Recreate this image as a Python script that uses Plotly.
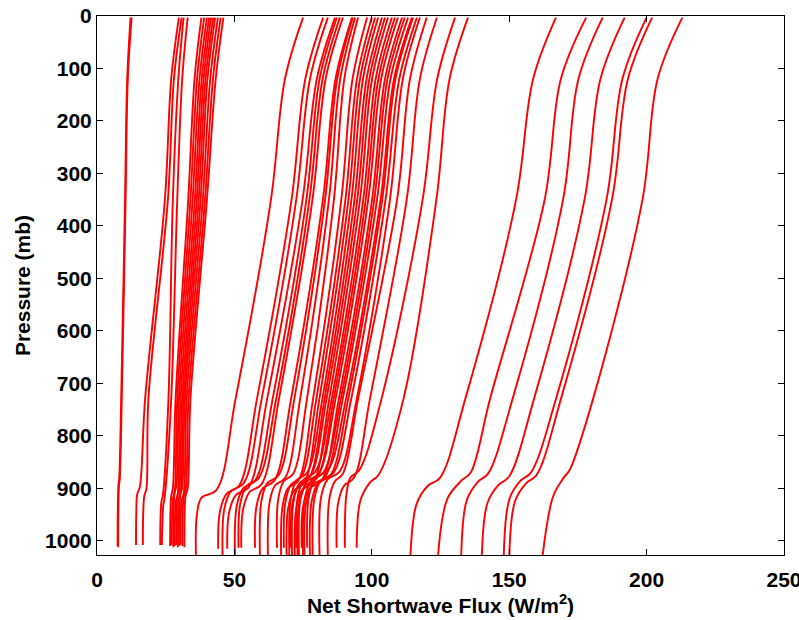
import plotly.graph_objects as go

# Pressure levels (mb) shared by all profiles
P_TOP = 3
P_120 = 120
P_350 = 350
P_730 = 730
SHOULDER_DP = 15
LOW_DP = 50

# Net shortwave flux (W/m^2) read from each profile
TOP = [12.6, 12.2,
       29.8, 30.8, 31.5, 33.0, 38.0, 39.0, 40.0, 40.8, 41.5, 42.3, 43.0, 44.0, 45.0, 46.0,
       75, 82.3, 84, 86.6, 87.3, 88.4, 89.5, 92.8, 93.1, 93.9, 95, 98.3, 100, 101.2, 102.3, 103.7,
       104.8, 105.9, 107.3, 108.4, 109.5, 111, 112, 113.2, 114.6, 115, 116.4, 117.5, 120, 123.7, 130.3, 135,
       167, 178, 184, 192, 200, 202, 213]
F120 = [11.2, 11.0,
        27.0, 28.0, 29.6, 31.0, 35.5, 36.4, 37.3, 38.1, 38.8, 39.5, 40.2, 41.2, 42.2, 43.2,
        68.4, 75.8, 77.5, 80.0, 81.0, 82.1, 83.2, 86.8, 87.4, 88.5, 90.0, 93.0, 94.6, 95.7, 96.8, 98.1,
        99.1, 100.1, 101.4, 102.4, 103.4, 104.8, 105.7, 106.8, 108.1, 108.6, 110.0, 111.3, 113.9, 117.5, 123.8, 128.3,
        158.7, 168.8, 175.2, 183.2, 191.2, 193.2, 204.0]
F350 = [10.4, 10.2,
        24.7, 25.8, 27.6, 29.2, 33.2, 34.0, 34.8, 35.6, 36.3, 37.0, 37.7, 38.5, 39.3, 40.0,
        63.3, 70.8, 72.5, 74.8, 76.2, 77.3, 78.4, 82.2, 83.0, 84.4, 86.2, 88.9, 90.4, 91.5, 92.6, 93.7,
        94.7, 95.7, 96.9, 97.8, 98.7, 100.1, 100.9, 101.9, 103.2, 103.8, 105.0, 106.6, 109.2, 112.7, 118.5, 123.5,
        152.5, 162.9, 169.6, 177.4, 185.4, 187.4, 198.5]
F730 = [9.0, 8.8,
        17.5, 18.7, 26.0, 27.0, 28.6, 29.2, 29.8, 30.4, 31.0, 31.5, 32.0, 32.6, 33.3, 34.0,
        50.4, 58.2, 59.9, 61.9, 63.9, 65.2, 66.2, 70.6, 71.8, 73.9, 76.4, 78.6, 79.8, 80.9, 82.0, 82.8,
        83.5, 84.5, 85.4, 86.1, 86.8, 88.0, 88.7, 89.4, 90.6, 91.4, 92.5, 94.5, 95.0, 99.3, 103.5, 111.5,
        134.0, 143.0, 151.2, 159.0, 167.0, 168.8, 180.5]
P_KINK = [880, 880,
          897, 900, 912, 918, 900, 905, 895, 910, 900, 905, 898, 908, 902, 900,
          903, 895, 890, 898, 885, 880, 892, 885, 875, 880, 872, 885, 878, 890, 870, 882,
          875, 888, 868, 880, 872, 885, 870, 878, 865, 875, 870, 868, 872, 880, 865, 874,
          880, 870, 872, 878, 870, 875, 865]
F_KINK = [8.3, 8.1,
          15.6, 18.0, 24.0, 24.6, 27.6, 28.3, 28.9, 29.4, 30.0, 30.5, 31.0, 31.6, 32.3, 33.0,
          43.5, 51.7, 53.4, 55.2, 57.6, 58.9, 59.9, 64.6, 66.1, 68.5, 71.4, 73.3, 74.4, 75.4, 76.5, 77.1,
          77.8, 78.8, 79.5, 80.1, 80.7, 81.8, 82.4, 83.0, 84.1, 85.0, 86.1, 88.3, 89.5, 93.5, 95.5, 102.5,
          124.8, 136.0, 142.3, 149.9, 157.9, 159.9, 172.0]
F_SHOULDER = [8.0, 7.8,
              14.6, 17.2, 23.4, 24.1, 27.0, 27.6, 28.2, 28.7, 29.3, 29.8, 30.3, 30.8, 31.5, 32.2,
              38.0, 47.2, 48.8, 50.5, 53.2, 54.5, 55.5, 60.3, 62.0, 64.7, 67.9, 69.5, 70.6, 71.6, 72.6, 73.2,
              73.7, 74.7, 75.3, 75.8, 76.4, 77.4, 78.0, 78.5, 79.5, 80.5, 81.5, 83.9, 86.5, 89.9, 92.2, 99.3,
              120.4, 132.7, 138.7, 146.2, 154.2, 156.2, 169.8]
F_LOW = [7.8, 7.6,
         14.3, 16.8, 23.1, 23.8, 26.7, 27.3, 27.9, 28.4, 29.0, 29.5, 30.0, 30.5, 31.2, 31.9,
         36.3, 44.7, 46.3, 48.0, 50.8, 52.1, 53.1, 58.0, 59.8, 62.7, 65.9, 67.5, 68.5, 69.5, 70.5, 71.0,
         71.5, 72.5, 73.0, 73.5, 74.0, 75.0, 75.6, 76.1, 77.1, 78.1, 79.1, 81.5, 84.5, 87.7, 90.7, 95.8,
         116.3, 127.5, 134.6, 142.1, 150.1, 152.1, 166.0]
F_SFC = [7.7, 7.5,
         14.2, 16.7, 23.0, 23.6, 26.6, 27.2, 27.8, 28.3, 28.9, 29.4, 29.9, 30.4, 31.1, 31.8,
         36, 44.1, 45.7, 47.4, 50.2, 51.5, 52.5, 57.5, 59.3, 62.2, 65.5, 67, 68, 69, 70, 70.5,
         71, 72, 72.5, 73, 73.5, 74.5, 75, 75.5, 76.5, 77.5, 78.5, 81, 84, 87.2, 90.2, 94.5,
         114, 124, 132.5, 140, 148, 150, 162]
P_SFC = [1012, 1010,
         1008, 1008, 1008, 1008, 1010, 1008, 1012, 1010, 1008, 1012, 1010, 1008, 1010, 1012,
         1030, 1015, 1030, 1015, 1030, 1013, 1013, 1013, 1030, 1030, 1013, 1030, 1013, 1030, 1030, 1013,
         1030, 1030, 1013, 1030, 1030, 1013, 1030, 1030, 1013, 1030, 1030, 1030, 1030, 1013, 1013, 1013,
         1035, 1035, 1035, 1035, 1035, 1035, 1035]

X_TICKS = [0, 50, 100, 150, 200, 250]
Y_TICKS = [0, 100, 200, 300, 400, 500, 600, 700, 800, 900, 1000]

fig = go.Figure()
for i in range(len(TOP)):
    pk = P_KINK[i]
    p = [P_TOP, P_120, P_350, P_730, pk, pk + SHOULDER_DP, pk + LOW_DP, P_SFC[i]]
    f = [TOP[i], F120[i], F350[i], F730[i], F_KINK[i], F_SHOULDER[i], F_LOW[i], F_SFC[i]]
    fig.add_trace(go.Scatter(x=f, y=p, mode="lines",
                             line=dict(color="#ff0000", width=1.9, shape="spline", smoothing=1.0),
                             showlegend=False, hoverinfo="skip"))

font_family = "Liberation Sans, Arial, sans-serif"
label_font = dict(family=font_family, size=21, color="black", weight="bold")
axis_common = dict(showline=True, linecolor="black", linewidth=1, mirror="ticks",
                   ticks="inside", ticklen=6, tickcolor="black", showgrid=False, zeroline=False,
                   tickfont=label_font, automargin=False)

fig.update_xaxes(range=[0, 250], tickvals=X_TICKS, ticklabelstandoff=6, ticklabeloverflow="allow",
                 title=dict(text="Net Shortwave Flux (W/m<sup>2</sup>)", standoff=6, font=label_font),
                 **axis_common)
fig.update_yaxes(range=[1027, 0], tickvals=Y_TICKS, ticklabelstandoff=0, ticklabeloverflow="allow",
                 title=dict(text="Pressure (mb)", standoff=8, font=label_font),
                 **axis_common)

fig.update_layout(width=799, height=620, plot_bgcolor="white", paper_bgcolor="white",
                  margin=dict(l=97, r=15, t=16, b=65, autoexpand=False))

fig.write_html("out.html")
